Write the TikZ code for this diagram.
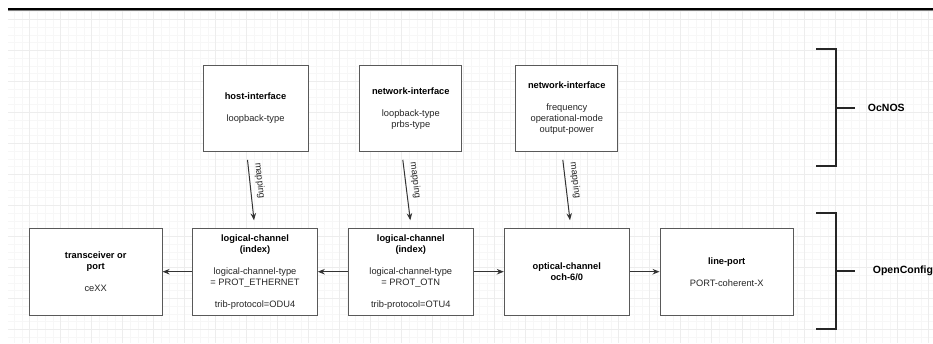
\documentclass[tikz,border=0pt]{standalone}
\usepackage{fontspec}
\setmainfont{Liberation Sans}
\usetikzlibrary{arrows.meta}

\def\boxFont{\fontsize{9.3}{11}\selectfont}
\def\hd#1{\textcolor{black}{\textbf{#1}}}

\tikzset{
	block/.style={draw=black!65, line width=1pt, fill=white, inner sep=0pt, align=center, font=\boxFont, text=black!85},
	topblock/.style={block, minimum height=85.6pt},
	lowblock/.style={block, minimum height=86.7pt},
	flow/.style={draw=black!80, line width=1pt, -{Stealth[length=7pt,width=5.5pt]}},
	maplabel/.style={midway, pos=0.36, sloped, above, inner sep=5pt, font=\boxFont, text=black!85},
	bracket/.style={draw=black!85, line width=1.8pt},
	gridminor/.style={draw=black!3, line width=0.6pt},
	gridmajor/.style={draw=black!7, line width=0.6pt},
	layer/.style={font=\fontsize{10.5}{12}\selectfont\bfseries, anchor=west, inner sep=0pt}
}

\begin{document}
\begin{tikzpicture}[x=1pt, y=-1pt, line cap=butt]
		\useasboundingbox (0,0) rectangle (933,343);
		\fill[white] (0,0) rectangle (933,343);
		
		% background grid
		\foreach \i in {0,...,118} {
			\draw[gridminor] ({14.2+7.75*\i},10) -- ({14.2+7.75*\i},343);
		}
		\foreach \i in {0,...,42} {
			\draw[gridminor] (8,{11.55+7.75*\i}) -- (933,{11.55+7.75*\i});
		}
		\foreach \i in {0,...,29} {
			\draw[gridmajor] ({29.7+31*\i},10) -- ({29.7+31*\i},343);
		}
		\foreach \i in {0,...,10} {
			\draw[gridmajor] (8,{19.3+31*\i}) -- (933,{19.3+31*\i});
		}
		\draw[line width=2.2pt] (8,8.9) -- (933,8.9);
		\draw[black!50, line width=0.8pt] (8,10.4) -- (933,10.4);
		
		% OcNOS side
		\node[topblock, minimum width=105pt] (hostIf) at (255.5,108.5)
			{\hd{host-interface}\\[11pt]loopback-type};
		\node[topblock, minimum width=101.7pt] (netIfA) at (410.8,108.5)
			{\hd{network-interface}\\[11pt]loopback-type\\prbs-type};
		\node[topblock, minimum width=101.7pt] (netIfB) at (566.8,108.5)
			{\hd{network-interface}\\[11pt]frequency\\operational-mode\\output-power};
		
		% OpenConfig side
		\node[lowblock, minimum width=132.7pt] (trx) at (95.7,271.7)
			{\hd{transceiver or}\\\hd{port}\\[11pt]ceXX};
		\node[lowblock, minimum width=124.6pt] (lcEth) at (255,271.7)
			{\hd{logical-channel}\\\hd{(index)}\\[11pt]logical-channel-type\\= PROT\_ETHERNET\\[11pt]trib-protocol=ODU4};
		\node[lowblock, minimum width=125pt] (lcOtn) at (410.8,271.7)
			{\hd{logical-channel}\\\hd{(index)}\\[11pt]logical-channel-type\\= PROT\_OTN\\[11pt]trib-protocol=OTU4};
		\node[lowblock, minimum width=125pt] (och) at (566.8,271.7)
			{\hd{optical-channel}\\\hd{och-6/0}};
		\node[lowblock, minimum width=133.3pt] (linePort) at (726.7,271.7)
			{\hd{line-port}\\[11pt]PORT-coherent-X};
		
		\draw[flow] ([xshift=-8pt,yshift=-8pt]hostIf.south) -- ([xshift=-1pt,yshift=7.6pt]lcEth.north)
			node[maplabel] {mapping};
		\draw[flow] ([xshift=-8pt,yshift=-8pt]netIfA.south) -- ([xshift=-0.5pt,yshift=7.6pt]lcOtn.north)
			node[maplabel] {mapping};
		\draw[flow] ([xshift=-4pt,yshift=-8pt]netIfB.south) -- ([xshift=3.2pt,yshift=7.6pt]och.north)
			node[maplabel] {mapping};
		
		\draw[flow] (lcEth.west) -- (trx.east);
		\draw[flow] (lcOtn.west) -- (lcEth.east);
		\draw[flow] (lcOtn.east) -- (och.west);
		\draw[flow] (och.east) -- (linePort.west);
		
		% layer brackets
		\node[layer] (ocnos) at (867.7,107.7) {OcNOS};
		\coordinate (ocnosTick) at (835.7,107.7);
		\draw[bracket] (816,49.3) -- (835.7,49.3) -- (835.7,165.7) -- (816,165.7);
		\draw[bracket] (ocnosTick) -- ([xshift=-12.7pt]ocnos.west);
		
		\node[layer] (openconfig) at (872.7,271) {OpenConfig};
		\coordinate (openconfigTick) at (835.7,271);
		\draw[bracket] (816,212.7) -- (835.7,212.7) -- (835.7,329.3) -- (816,329.3);
		\draw[bracket] (openconfigTick) -- ([xshift=-17.7pt]openconfig.west);
\end{tikzpicture}
\end{document}
